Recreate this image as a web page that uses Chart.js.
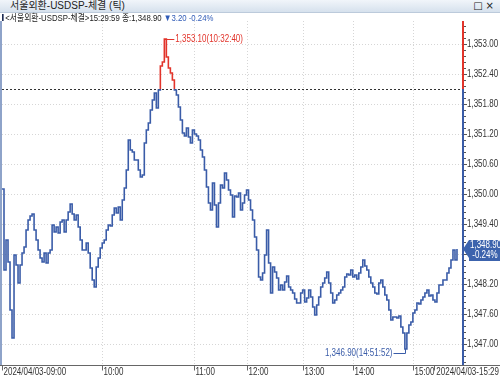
<!DOCTYPE html>
<html><head><meta charset="utf-8">
<script src="https://cdn.jsdelivr.net/npm/chart.js@4.4.1/dist/chart.umd.min.js"></script>
<style>
html,body{margin:0;padding:0;background:#fff;}
#wrap{position:relative;width:500px;height:379px;overflow:hidden;font-family:"Liberation Sans","Noto Sans CJK KR",sans-serif;}
canvas{position:absolute;left:0;top:0;}
#title{position:absolute;left:0;top:0;width:500px;height:12px;background:linear-gradient(#f1f5fa,#d6e1ed);border-bottom:1px solid #bccadb;z-index:2;}
#title .t{position:absolute;left:10px;top:0;font-size:10px;line-height:12px;color:#222;white-space:nowrap;}
#title .ic{position:absolute;right:3px;top:0;font-size:10px;line-height:12px;color:#222;letter-spacing:3px;font-family:"DejaVu Sans",sans-serif;}
#legend{position:absolute;left:2px;top:13px;font-size:9.5px;line-height:10px;color:#222;white-space:nowrap;z-index:2;transform:scaleX(0.82);transform-origin:0 0;}
#legend .mk{display:inline-block;width:2px;height:7px;background:#1d2b52;margin-right:2px;vertical-align:0px;}
#legend .dn{color:#2f5bb7;}
</style></head>
<body><div id="wrap">
<canvas id="c" width="500" height="379"></canvas>
<div id="title"><span class="t">서울외환-USDSP-체결 (틱)</span><span class="ic">□×</span></div>
<div id="legend"></div>
</div>
<script>
// ---- data ----
const seriesName = '서울외환-USDSP-체결';
const tradeDate = '2024/04/03';
const lastTime = '15:29:59';
const prevClose = 1352.10;
const hourLabels = ['2024/04/03-09:00','10:00','11:00','12:00','13:00','14:00','15:00'];
const hourTickIndex = [0, 50, 96, 122, 150, 175, 205];
const endLabel = '2024/04/03-15:29';
const totalTicks = 230;
const yTicks = [1347.00,1347.60,1348.20,1348.80,1349.40,1350.00,1350.60,1351.20,1351.80,1352.40,1353.00];
const peakTime = '10:32:40';
const lowTime = '14:51:52';
const prices = [
1350.10,1348.48,1349.08,1348.64,1347.68,1347.12,1348.78,1348.58,1348.22,1348.58,
1348.82,1348.94,1349.28,1349.48,1349.56,1349.60,1349.28,1349.08,1348.88,1348.72,
1348.64,1348.82,1348.62,1348.82,1348.88,1349.38,1349.24,1349.34,1349.22,1349.44,
1349.48,1349.24,1349.48,1349.64,1349.80,1349.60,1349.48,1349.58,1349.34,1349.08,
1348.88,1348.88,1349.02,1348.82,1348.52,1348.28,1348.14,1348.54,1348.72,1348.92,
1349.02,1349.08,1349.28,1349.38,1349.36,1349.58,1349.72,1349.62,1349.74,1349.48,
1349.88,1350.12,1350.48,1351.08,1350.88,1350.84,1350.68,1350.68,1350.48,1350.34,
1350.38,1351.02,1351.28,1351.42,1351.68,1351.88,1352.02,1351.72,1352.08,1352.56,
1352.64,1353.10,1352.74,1352.52,1352.42,1352.28,1352.08,1351.98,1351.74,1351.48,
1351.22,1351.16,1351.32,1351.14,1351.02,1351.28,1351.20,1351.16,1351.08,1350.88,
1350.74,1350.48,1350.14,1349.82,1349.68,1350.22,1349.78,1349.34,1349.82,1350.18,
1350.12,1350.42,1350.28,1350.08,1349.98,1349.54,1349.96,1349.94,1350.02,1349.68,
1349.82,1349.98,1350.08,1349.88,1349.68,1349.48,1349.14,1348.88,1348.34,1348.28,
1348.42,1348.78,1349.28,1348.62,1348.02,1348.54,1348.44,1348.32,1348.08,1348.18,
1348.08,1348.24,1348.36,1348.14,1348.08,1348.02,1347.90,1347.82,1347.82,1348.02,
1348.08,1347.84,1347.92,1348.08,1347.94,1347.74,1347.58,1347.78,1347.94,1348.14,
1348.22,1348.32,1348.44,1348.22,1348.02,1347.82,1347.88,1347.98,1348.02,1348.08,
1348.14,1348.34,1348.40,1348.38,1348.48,1348.34,1348.38,1348.30,1348.42,1348.54,
1348.68,1348.56,1348.48,1348.34,1348.22,1348.14,1348.02,1348.00,1348.22,1348.28,
1348.14,1347.98,1347.88,1347.68,1347.48,1347.54,1347.54,1347.52,1347.56,1347.34,
1347.22,1346.90,1347.22,1347.38,1347.44,1347.62,1347.68,1347.82,1347.80,1347.88,
1347.94,1348.02,1348.08,1347.96,1347.98,1347.88,1347.84,1348.02,1348.18,1348.18,
1348.28,1348.28,1348.42,1348.52,1348.68,1348.88,1348.68,1348.90
];

const BLUE = '#3a5ca8', RED = '#e2342b';
const FONT = '"Liberation Sans","Noto Sans CJK KR",sans-serif';
const SQ = 0.8; // horizontal squeeze of the narrow terminal font
const fmt = v => v.toLocaleString('en-US',{minimumFractionDigits:2, maximumFractionDigits:2});

const last = prices[prices.length-1];
const chg = last - prevClose;
const pct = chg / prevClose * 100;
document.getElementById('legend').innerHTML =
  '<span class="mk"></span>&lt;' + seriesName + '&gt;' + lastTime + ' 종:' + fmt(last) +
  ' <span class="dn">' + (chg < 0 ? '▼' : '▲') + fmt(Math.abs(chg)) + ' ' + pct.toFixed(2) + '%</span>';

function txt(ctx, s, x, y, align, color, size) {
  ctx.save();
  ctx.font = (size || 10) + 'px ' + FONT;
  ctx.fillStyle = color; ctx.textBaseline = 'middle';
  const w = ctx.measureText(s).width * SQ;
  let x0 = x;
  if (align === 'right') x0 = x - w; else if (align === 'center') x0 = x - w / 2;
  ctx.translate(x0, y); ctx.scale(SQ, 1);
  ctx.textAlign = 'left'; ctx.fillText(s, 0, 0);
  ctx.restore();
  return w;
}

const overlay = {
  id: 'overlay',
  beforeDatasetsDraw(chart) {
    const {ctx, chartArea: a, scales: {x, y}} = chart;
    ctx.save();
    ctx.strokeStyle = '#d6d6d6'; ctx.lineWidth = 1; ctx.setLineDash([1,2]);
    yTicks.forEach(v => { const py = Math.round(y.getPixelForValue(v)) + 0.5;
      ctx.beginPath(); ctx.moveTo(a.left, py); ctx.lineTo(a.right, py); ctx.stroke(); });
    hourTickIndex.slice(1).forEach(i => { const px = Math.round(x.getPixelForValue(i)) + 0.5;
      ctx.beginPath(); ctx.moveTo(px, a.top); ctx.lineTo(px, a.bottom); ctx.stroke(); });
    const pc = Math.round(y.getPixelForValue(prevClose)) + 0.5;
    ctx.strokeStyle = '#333'; ctx.setLineDash([2,2]);
    ctx.beginPath(); ctx.moveTo(a.left, pc); ctx.lineTo(a.right, pc); ctx.stroke();
    ctx.restore();
  },
  afterDatasetsDraw(chart) {
    const {ctx, chartArea: a, scales: {x, y}} = chart;
    ctx.save();
    ctx.fillStyle = '#8ea3c9'; ctx.fillRect(0, a.top, 2, a.bottom - a.top);
    const pc = y.getPixelForValue(prevClose);
    ctx.fillStyle = RED; ctx.fillRect(a.right - 1, a.top, 2, pc - a.top);
    ctx.fillStyle = BLUE; ctx.fillRect(a.right - 1, pc, 2, a.bottom - pc);
    ctx.strokeStyle = '#555'; ctx.lineWidth = 1;
    for (let k = 0; k <= 60; k++) {
      const v = 1346.64 + k * 0.12; const py = Math.round(y.getPixelForValue(v)) + 0.5;
      if (py < a.top || py > a.bottom) continue;
      const major = yTicks.some(t => Math.abs(t - v) < 0.001);
      ctx.beginPath(); ctx.moveTo(a.right + 1, py); ctx.lineTo(a.right + (major ? 4 : 3), py); ctx.stroke();
    }
    yTicks.forEach(v => {
      if (Math.abs(v - last) < 0.15) return;
      txt(ctx, fmt(v), a.right + 4, y.getPixelForValue(v), 'left', '#333', 10);
    });
    const by = Math.round(a.bottom) + 0.5;
    ctx.strokeStyle = '#666';
    ctx.beginPath(); ctx.moveTo(0, by); ctx.lineTo(500, by); ctx.stroke();
    hourTickIndex.forEach((i, k) => {
      const px = Math.round(x.getPixelForValue(i)) + 0.5;
      ctx.beginPath(); ctx.moveTo(px, by); ctx.lineTo(px, by + 5); ctx.stroke();
      txt(ctx, hourLabels[k], px + 1, by + 7, 'left', '#333', 10);
    });
    const ew = txt(ctx, endLabel, 499, by + 7, 'right', '#333', 10);
    ctx.beginPath(); ctx.moveTo(Math.round(499 - ew - 2) + 0.5, by); ctx.lineTo(Math.round(499 - ew - 2) + 0.5, by + 5); ctx.stroke();
    let hi = 0, lo = 0;
    prices.forEach((p, i) => { if (p > prices[hi]) hi = i; if (p < prices[lo]) lo = i; });
    const hx = x.getPixelForValue(hi), hy = Math.round(y.getPixelForValue(prices[hi])) + 0.5;
    ctx.strokeStyle = RED;
    ctx.beginPath(); ctx.moveTo(hx, hy); ctx.lineTo(hx + 10, hy); ctx.stroke();
    txt(ctx, fmt(prices[hi]) + '(' + peakTime + ')', hx + 11, hy, 'left', RED, 10);
    const lx = Math.round(x.getPixelForValue(lo)) + 0.5, ly = y.getPixelForValue(prices[lo]);
    const ty = Math.round(ly) + 4.5;
    ctx.strokeStyle = BLUE;
    ctx.beginPath(); ctx.moveTo(lx - 12, ty); ctx.lineTo(lx, ty); ctx.lineTo(lx, ly); ctx.stroke();
    txt(ctx, fmt(prices[lo]) + '(' + lowTime + ')', lx - 13, ty, 'right', BLUE, 10);
    const cy = y.getPixelForValue(last);
    const bx = a.right + 1;
    ctx.fillStyle = '#3c63ad';
    ctx.beginPath(); ctx.moveTo(bx - 1, cy); ctx.lineTo(bx + 5, cy - 9); ctx.lineTo(500, cy - 9);
    ctx.lineTo(500, cy + 12); ctx.lineTo(bx + 5, cy + 12); ctx.lineTo(bx + 5, cy + 9); ctx.closePath(); ctx.fill();
    txt(ctx, fmt(last), bx + 6, cy - 3.5, 'left', '#fff', 10);
    txt(ctx, ' ' + pct.toFixed(2) + '%', bx + 6, cy + 6, 'left', '#fff', 10);
    ctx.restore();
  }
};

new Chart(document.getElementById('c'), {
  type: 'line',
  data: { datasets: [{
    data: prices.map((p, i) => ({x: i, y: p})),
    borderWidth: 1.6,
    pointRadius: 0,
    stepped: true,
    borderColor: (c) => {
      const ch = c.chart, a = ch.chartArea;
      if (!a) return BLUE;
      const f = Math.min(1, Math.max(0, (ch.scales.y.getPixelForValue(prevClose) - a.top) / (a.bottom - a.top)));
      const g = ch.ctx.createLinearGradient(0, a.top, 0, a.bottom);
      g.addColorStop(0, RED); g.addColorStop(f, RED); g.addColorStop(f, BLUE); g.addColorStop(1, BLUE);
      return g;
    }
  }]},
  options: {
    responsive: false, animation: false, events: [],
    layout: { padding: { top: 21, left: 2, right: 0, bottom: 0 } },
    plugins: { legend: { display: false }, tooltip: { enabled: false } },
    scales: {
      x: { type: 'linear', min: 0, max: totalTicks,
        grid: { display: false }, border: { display: false },
        ticks: { display: false },
        afterFit: s => { s.height = 14; } },
      y: { position: 'right', min: 1346.58, max: 1353.46,
        grid: { display: false, drawTicks: false }, border: { display: false },
        afterBuildTicks: s => { s.ticks = yTicks.map(v => ({value: v})); },
        ticks: { display: false },
        afterFit: s => { s.width = 37; } }
    }
  },
  plugins: [overlay]
});
</script>
</body></html>
